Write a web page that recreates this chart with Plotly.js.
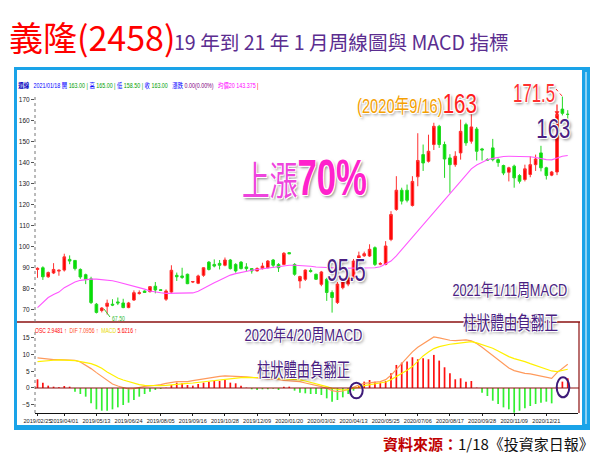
<!DOCTYPE html>
<html><head><meta charset="utf-8">
<script src="https://cdn.plot.ly/plotly-3.0.1.min.js"></script>
<style>html,body{margin:0;padding:0;background:#fff}#chart{width:600px;height:457px}</style>
</head><body><div id="chart"></div>
<script>
// ---- weekly candles 2019/02/25 .. 2021/01/18 ----
const openP  = [89.0,89.8,85.5,87.3,88.2,88.7,93.8,93.3,89.0,86.5, 84.5,72.4,69.4,71.4,72.4,73.5,73.0,70.8,74.4,77.5, 78.7,78.4,81.0,79.3,74.8,78.2,86.2,85.9,86.7,83.0, 82.4,86.2,92.5,91.4,91.9,91.0,93.5,91.4,92.5,90.2, 89.4,88.3,89.4,89.8,93.5,91.4,91.4,97.0,91.4,83.5, 84.3,88.5,86.7,81.9,84.3,78.0,73.2,80.3,82.0,85.0, 93.0,95.5,95.4,99.4,91.5,91.4,103.3,117.6,126.8,126.8, 119.5,133.2,143.8,140.6,148.6,157.3,148.6,142.2,139.0,144.6, 158.1,150.2,156.0,146.5,141.5,147.0,141.4,138.6,135.4,138.3, 133.8,131.9,134.3,139.0,144.6,137.5,134.0,135.5,165.5,163.0];
const highP  = [90.0,90.5,88.0,92.0,89.0,96.5,95.7,93.5,89.5,87.0, 85.5,73.0,71.0,74.6,74.8,75.6,75.0,73.5,79.0,79.0, 79.0,81.0,83.0,79.6,79.5,91.0,87.5,89.8,87.0,83.5, 86.5,90.0,93.0,93.8,93.5,94.7,94.0,92.0,93.0,92.0, 89.5,90.0,92.2,93.5,94.0,92.0,97.3,97.3,92.0,86.0, 89.0,89.5,87.0,88.3,85.0,79.0,83.0,85.0,86.0,94.0, 97.5,97.5,101.0,100.0,92.5,102.5,116.8,133.5,128.0,129.5, 133.5,154.0,148.6,153.3,159.0,158.0,150.0,144.0,145.4,160.5, 159.0,163.0,157.0,147.0,142.0,151.3,142.0,139.0,138.0,139.0, 134.5,139.0,143.0,143.8,148.0,138.0,136.0,164.0,171.5,165.0];
const lowP   = [85.0,84.0,85.0,86.8,86.0,88.0,91.5,88.5,84.5,82.0, 72.5,68.0,68.5,67.5,71.5,72.0,70.5,70.5,74.0,77.0, 77.8,78.0,77.6,78.8,74.0,77.5,83.5,84.5,82.0,82.5, 82.0,85.5,88.5,90.0,89.0,90.5,89.0,87.5,89.0,88.0, 87.0,88.0,89.0,89.5,89.8,87.8,91.0,96.3,86.0,80.0, 83.5,87.5,84.0,81.0,74.0,68.4,72.5,79.5,81.0,84.5, 92.5,95.0,95.0,90.6,91.0,91.0,102.5,117.0,120.0,121.0, 119.0,128.7,136.0,140.0,146.0,147.0,132.7,125.6,138.0,141.4, 148.0,149.0,141.0,141.0,140.8,140.6,138.0,134.0,131.0,128.0, 130.0,131.0,133.0,136.0,135.8,131.9,133.5,134.0,162.5,158.5];
const closeP = [89.5,85.5,87.5,89.0,88.6,95.0,93.0,89.4,85.4,84.3, 73.2,68.5,70.6,72.9,72.0,73.0,70.8,73.0,77.9,77.9, 78.0,80.8,79.2,79.0,78.7,88.6,85.5,85.2,82.2,83.2, 85.9,89.8,89.0,90.6,91.0,93.5,89.4,88.3,89.4,89.4, 88.3,89.4,90.6,93.0,91.0,89.8,96.7,96.5,86.7,85.6, 88.7,88.0,84.3,87.8,78.0,75.6,82.0,84.0,85.0,93.0, 95.5,96.5,98.6,91.4,91.8,100.2,115.2,126.8,121.6,122.0, 131.0,141.0,139.8,145.4,157.3,148.6,141.7,139.0,143.0,154.9, 149.4,157.0,145.4,146.0,141.2,141.4,140.0,135.0,137.5,132.7, 131.1,137.0,139.0,141.7,137.5,133.8,135.5,163.0,163.5,163.0];
const ma20   = [70.8,73.3,75.6,77.0,78.2,80.3,81.8,83.0,83.8,84.2, 84.4,84.4,84.2,84.0,83.6,83.0,82.3,81.8,81.2,80.2, 79.6,78.7,78.2,77.9,77.6,77.6,77.6,77.6,77.5,77.8, 78.6,80.0,81.5,82.6,83.8,85.0,86.3,87.0,87.6,88.2, 88.6,89.0,89.3,89.7,90.0,90.4,90.8,91.0,91.0,90.9, 90.7,90.5,90.2,90.0,89.8,89.8,89.7,89.6,89.6,89.5, 89.5,89.5,89.6,89.8,90.3,91.5,93.0,95.5,98.5,101.5, 104.5,107.0,110.0,113.0,116.5,119.5,122.5,125.5,128.5,131.5, 134.5,137.0,138.8,140.2,141.3,142.0,142.6,142.9,143.0,143.0, 143.0,143.0,142.8,142.4,141.8,141.4,141.3,142.2,143.0,143.4];
// ---- MACD panel ----
const osc  = [2.6,1.6,0.7,0.4,0.2,0.6,0.4,-1.1,-1.8,-2.6, -4.6,-6.4,-6.8,-6.8,-6.4,-5.8,-5.1,-4.4,-3.6,-2.6, -1.8,-1.1,-0.6,-0.3,0.1,0.9,1.6,1.4,0.9,0.7, 1.2,1.6,1.9,2.1,2.1,2.4,1.6,1.4,0.7,0.1, -0.4,-0.6,-0.4,-0.4,-0.2,-0.6,0.4,0.4,-0.8,-1.4, -1.6,-1.8,-1.8,-2.1,-3.1,-4.1,-3.6,-2.8,-1.8,-0.8, 0.6,1.9,2.4,1.9,1.6,2.1,4.4,6.9,7.6,7.9, 9.2,8.6,8.9,8.6,9.9,8.2,6.2,4.4,2.6,2.9, 1.9,2.1,0.1,-1.4,-2.4,-3.8,-4.8,-5.8,-6.4,-7.4, -6.8,-6.1,-5.4,-4.8,-4.4,-4.1,-4.6,0.3,1.9,2.9];
const dif  = [9.0,8.8,8.6,8.5,8.5,8.5,8.5,8.3,7.8,6.9, 5.8,4.6,3.4,2.2,1.2,0.6,0.1,-0.3,-0.2,0.2, 0.5,0.6,0.7,1.0,1.4,1.7,1.9,1.9,1.9,2.2, 2.5,2.8,3.1,3.3,3.5,3.6,3.6,3.5,3.4,3.3, 3.2,3.1,3.0,2.9,2.7,2.5,2.3,2.2,2.0,1.9, 1.5,1.2,0.9,0.4,-0.1,-0.8,-1.1,-0.9,-0.4,0.3, 0.9,1.4,1.6,1.8,1.9,2.5,3.8,5.6,7.4,9.0, 10.8,12.2,13.2,14.3,15.3,15.0,14.6,14.3,14.2,14.3, 14.4,14.1,13.3,12.2,11.0,9.8,8.6,7.3,6.0,5.2, 4.7,4.4,4.2,3.9,3.6,3.2,2.9,4.6,6.0,7.1];
const macd = [7.9,8.1,8.2,8.3,8.4,8.4,8.4,8.2,7.9,7.7, 7.3,6.7,5.9,4.8,3.8,3.0,2.4,1.9,1.3,1.0, 0.8,0.7,0.6,0.7,0.8,1.0,1.2,1.3,1.4,1.5, 1.7,1.9,2.1,2.3,2.5,2.7,2.9,3.0,3.1,3.2, 3.2,3.2,3.2,3.1,3.0,2.9,2.8,2.7,2.6,2.4, 2.1,1.7,1.4,0.9,0.4,-0.1,-0.4,-0.6,-0.5,-0.2, 0.3,0.7,1.0,1.2,1.4,1.8,2.5,3.4,4.3,5.3, 6.4,8.0,9.6,10.8,11.8,12.4,12.8,13.1,13.3,13.5, 13.8,13.9,13.5,13.0,12.4,11.9,11.1,10.2,9.4,8.8, 8.4,7.9,7.3,6.8,6.3,5.7,5.1,4.9,5.2,5.6];
// ---- axis ticks ----
const tickIdx  = [0,5,11,17,23,29,35,41,47,53,59,65,71,77,83,89,95];
const tickText = ['2019/02/25','2019/04/01','2019/05/13','2019/06/24','2019/08/05','2019/09/16','2019/10/28','2019/12/09','2020/01/20','2020/03/02','2020/04/13','2020/05/25','2020/07/06','2020/08/17','2020/09/28','2020/11/09','2020/12/21'];
const priceTicks = [70,80,90,100,110,120,130,140,150,160,170];
const macdTicks  = [-5,0,5,10,15];

const weeks = openP.map((_, i) => i);

// pixel -> paper helpers (plot area 35..578 x 88..413)
const L=35, R=578, T=88, B=413, W=R-L, H=B-T;
const px = x => (x-L)/W;
const py = y => (B-y)/H;
const step = 5.356, x0 = 37.5;
const r0 = -(x0-L)/step, r1 = r0 + W/step;

const NARROW = "'Liberation Sans Narrow','Liberation Sans','Noto Sans CJK TC',sans-serif";
const LAT = "'Liberation Sans','Noto Sans CJK TC',sans-serif";
const CJK = "'Noto Sans CJK TC','Noto Sans',sans-serif";
const GLOW = '-1px -1px 0 #fff, 1px -1px 0 #fff, -1px 1px 0 #fff, 1px 1px 0 #fff, 2px 2px 3px rgba(0,0,0,0.5)';
const PURPLE = '#4A1E82';

const traces = [
  {type:'candlestick', x:weeks, open:openP, high:highP, low:lowP, close:closeP, xaxis:'x', yaxis:'y',
   increasing:{line:{color:'#FF3030', width:1}, fillcolor:'#FF0000'},
   decreasing:{line:{color:'#22D822', width:1}, fillcolor:'#00E000'},
   whiskerwidth:0, hoverinfo:'skip', showlegend:false},
  {type:'scatter', mode:'lines', x:weeks, y:ma20, xaxis:'x', yaxis:'y',
   line:{color:'#FF55FF', width:1.1}, hoverinfo:'skip', showlegend:false},
  {type:'bar', x:weeks, y:osc, xaxis:'x', yaxis:'y2', width:0.32,
   marker:{color: osc.map(v => v >= 0 ? '#FF1010' : '#33F033')}, hoverinfo:'skip', showlegend:false},
  {type:'scatter', mode:'lines', x:weeks, y:dif, xaxis:'x', yaxis:'y2',
   line:{color:'#FF9A5C', width:1.2}, hoverinfo:'skip', showlegend:false},
  {type:'scatter', mode:'lines', x:weeks, y:macd, xaxis:'x', yaxis:'y2',
   line:{color:'#FFF000', width:1.2}, hoverinfo:'skip', showlegend:false}
];

const shapes = [
  // blue frame
  {type:'rect', xref:'paper', yref:'paper', x0:px(14), x1:px(17), y0:py(430), y1:py(67), fillcolor:'#1AA3E8', line:{width:0}, layer:'below'},
  {type:'rect', xref:'paper', yref:'paper', x0:px(14), x1:px(590), y0:py(70), y1:py(67), fillcolor:'#1AA3E8', line:{width:0}, layer:'below'},
  {type:'rect', xref:'paper', yref:'paper', x0:px(582), x1:px(590), y0:py(430), y1:py(67), fillcolor:'#1AA3E8', line:{width:0}, layer:'below'},
  {type:'line', xref:'paper', yref:'paper', x0:px(586), x1:px(586), y0:py(424), y1:py(72), line:{color:'#ffffff', width:1}},
  {type:'rect', xref:'paper', yref:'paper', x0:px(14), x1:px(590), y0:py(430), y1:py(425), fillcolor:'#1AA3E8', line:{width:0}, layer:'below'},
  // separator between panels
  {type:'line', xref:'paper', yref:'paper', x0:px(17), x1:px(580), y0:py(322), y1:py(322), line:{color:'#8B1010', width:1.6}},
  {type:'line', xref:'paper', yref:'paper', x0:px(579), x1:px(579), y0:py(322), y1:py(413), line:{color:'#8B1010', width:1.2}},
  // dotted y-axis lines
  {type:'line', xref:'paper', yref:'paper', x0:0, x1:0, y0:py(322), y1:py(95), line:{color:'#777', width:1, dash:'dot'}},
  {type:'line', xref:'paper', yref:'paper', x0:0, x1:0, y0:py(413), y1:py(330), line:{color:'#777', width:1, dash:'dot'}},
  // MACD zero line
  {type:'line', xref:'paper', yref:'y2', x0:0, x1:px(579), y0:0, y1:0, line:{color:'#8B1010', width:1.2}},
  // circles
  {type:'circle', xref:'paper', yref:'paper', x0:px(350), x1:px(362.7), y0:py(398.3), y1:py(382.7), line:{color:'#3D1A78', width:2}},
  {type:'circle', xref:'paper', yref:'paper', x0:px(556.7), x1:px(569.3), y0:py(397.3), y1:py(377.3), line:{color:'#3D1A78', width:2}},
  // 171.5 dashed pointer
  {type:'line', xref:'paper', yref:'paper', x0:px(556), x1:px(562), y0:py(89), y1:py(96), line:{color:'#FF2020', width:1, dash:'dot'}},
  // 67.50 pointer
  {type:'line', xref:'paper', yref:'paper', x0:px(104), x1:px(110), y0:py(309), y1:py(317), line:{color:'#33CC33', width:1}}
];

const sp = (c, t, extra) => `<span style="color:${c};${extra||''}">${t}</span>`;
const NB = '\u00a0';

const annotations = [];
const fits = {};   // annotation index -> [target pixel width, anchor]
function A(opts, fitW, anchor) {
  annotations.push(Object.assign({xref:'paper', yref:'paper', showarrow:false}, opts));
  if (fitW) fits[annotations.length - 1] = [fitW, anchor || 'center'];
}

A({x:px(7), y:py(37), xanchor:'left', yanchor:'middle', text:'義隆(2458)', font:{family:CJK, size:34, color:'#FF0000'}});
A({x:px(172), y:py(41), xanchor:'left', yanchor:'middle', text:'19 年到 21 年 1 月周線圖與 MACD 指標', font:{family:CJK, size:19.6, color:'#5B2D90'}});
A({x:px(596), y:py(443), xanchor:'right', yanchor:'middle',
   text:'<b>' + sp('#C00000','資料來源：') + '</b>' + sp('#111','1/18《投資家日報》'), font:{family:CJK, size:15, color:'#111'}});
// header row of price panel
A({x:px(16), y:py(85.5), xanchor:'left', yanchor:'middle',
   text:'<b>'+sp('#0000C0','週線')+'</b>'+NB+NB+NB+sp('#0000FF','2021/01/18 開')+NB+sp('#00A000','163.00')+NB+sp('#00A000','|')+NB+sp('#0000FF','高')+NB+sp('#00A000','165.00')+NB+sp('#00A000','|')+NB+sp('#0000FF','低')+NB+sp('#00A000','158.50')+NB+sp('#00A000','|')+NB+sp('#0000FF','收')+NB+sp('#00A000','163.00')+NB+NB+NB+sp('#0000FF','漲跌')+NB+sp('#800080','0.00(0.00%)')+NB+NB+NB+sp('#FF00FF','均價20')+NB+sp('#FF00FF','143.375')+NB+sp('#FF0000','|'),
   font:{family:LAT, size:7, color:'#0000FF'}}, 241, 'left');
// header row of MACD panel
A({x:px(33), y:py(330), xanchor:'left', yanchor:'middle',
   text:sp('#FF0000','OSC 2.9481 ↑')+NB+NB+sp('#FF4A1A','DIF 7.0956 ↑')+NB+NB+sp('#E8D800','MACD')+NB+sp('#FF0000','5.6216 ↑'),
   font:{family:LAT, size:7, color:'#FF0000'}}, 102, 'left');
// call-outs
A({x:px(240), y:py(178), xanchor:'left', yanchor:'middle',
   text:sp('#EE44DD','上漲','font-size:40px') + '<b>' + sp('#FF22CC','70%','font-size:50px') + '</b>',
   font:{family:LAT, size:44, color:'#FF22CC', shadow:GLOW}}, 125, 'left');
A({x:px(355), y:py(104), xanchor:'left', yanchor:'middle',
   text:sp('#F5A000','(2020年9/16)','font-size:20px') + sp('#FF2020','163','font-size:28px'),
   font:{family:LAT, size:24, color:'#FF2020', shadow:GLOW}}, 120, 'left');
A({x:px(557), y:py(92.5), xanchor:'right', yanchor:'middle', text:'171.5',
   font:{family:LAT, size:26, color:'#FF3030', shadow:GLOW}}, 42, 'right');
A({x:px(553.5), y:py(128), xanchor:'center', yanchor:'middle', text:'163',
   font:{family:LAT, size:28, color:PURPLE, shadow:GLOW}}, 34, 'center');
A({x:px(346), y:py(270), xanchor:'center', yanchor:'middle', text:'95.5',
   font:{family:LAT, size:32, color:PURPLE, shadow:GLOW}}, 39, 'center');
A({x:px(509.5), y:py(290), xanchor:'center', yanchor:'middle', text:'2021年1/11周MACD',
   font:{family:LAT, size:17, color:PURPLE, shadow:GLOW}}, 115, 'center');
A({x:px(510.5), y:py(321), xanchor:'center', yanchor:'middle', text:'柱狀體由負翻正',
   font:{family:CJK, size:19, color:PURPLE, shadow:GLOW}}, 95, 'center');
A({x:px(303), y:py(335), xanchor:'center', yanchor:'middle', text:'2020年4/20周MACD',
   font:{family:LAT, size:17, color:PURPLE, shadow:GLOW}}, 118, 'center');
A({x:px(303.5), y:py(368), xanchor:'center', yanchor:'middle', text:'柱狀體由負翻正',
   font:{family:CJK, size:19, color:PURPLE, shadow:GLOW}}, 93, 'center');
// 67.50 low label
A({x:px(110), y:py(318), xanchor:'left', yanchor:'middle', text:'67.50', font:{family:LAT, size:7, color:'#33BB33'}}, 13, 'left');
// arrow to latest candle
annotations.push({xref:'paper', yref:'paper', x:px(557), y:py(116), ax:0, ay:-13, text:'', showarrow:true,
   arrowcolor:'#FF2020', arrowhead:2, arrowsize:0.8, arrowwidth:1.2});

const layout = {
  width:600, height:457, margin:{l:L, r:600-R, t:T, b:457-B},
  paper_bgcolor:'#fff', plot_bgcolor:'#fff', showlegend:false,
  xaxis:{range:[r0, r1], anchor:'y2', tickvals:tickIdx, ticktext:tickText, tickangle:0,
         tickfont:{family:NARROW, size:5.6, color:'#222'}, ticks:'outside', ticklen:2, tickcolor:'#222',
         showline:true, linecolor:'#111', linewidth:1, showgrid:false, zeroline:false,
         rangeslider:{visible:false}, fixedrange:true},
  yaxis:{domain:[py(322), 1], range:[63.92, 175.58], tickvals:priceTicks,
         tickfont:{family:NARROW, size:6.5, color:'#222'}, ticks:'outside', ticklen:3, tickcolor:'#555',
         showline:false, showgrid:false, zeroline:false, fixedrange:true},
  yaxis2:{domain:[0, py(325)], range:[-7.49, 18.86], tickvals:macdTicks,
         tickfont:{family:NARROW, size:6.5, color:'#222'}, ticks:'outside', ticklen:3, tickcolor:'#555',
         showline:false, showgrid:false, zeroline:false, fixedrange:true},
  shapes: shapes, annotations: annotations
};

Plotly.newPlot('chart', traces, layout, {staticPlot:true, displayModeBar:false}).then(gd => {
  // horizontally condense call-out texts to the reference's narrow lettering
  gd.querySelectorAll('g.annotation').forEach(g => {
    const f = fits[+g.getAttribute('data-index')];
    if (!f) return;
    const t = g.querySelector('text.annotation-text');
    if (!t) return;
    const bb = t.getBBox();
    if (!bb.width) return;
    const sx = f[0] / bb.width;
    const ox = f[1] === 'left' ? bb.x : (f[1] === 'right' ? bb.x + bb.width : bb.x + bb.width / 2);
    const prev = t.getAttribute('transform') || '';
    t.setAttribute('transform', prev + ` translate(${ox},0) scale(${sx},1) translate(${-ox},0)`);
  });
});
</script>
</body></html>
